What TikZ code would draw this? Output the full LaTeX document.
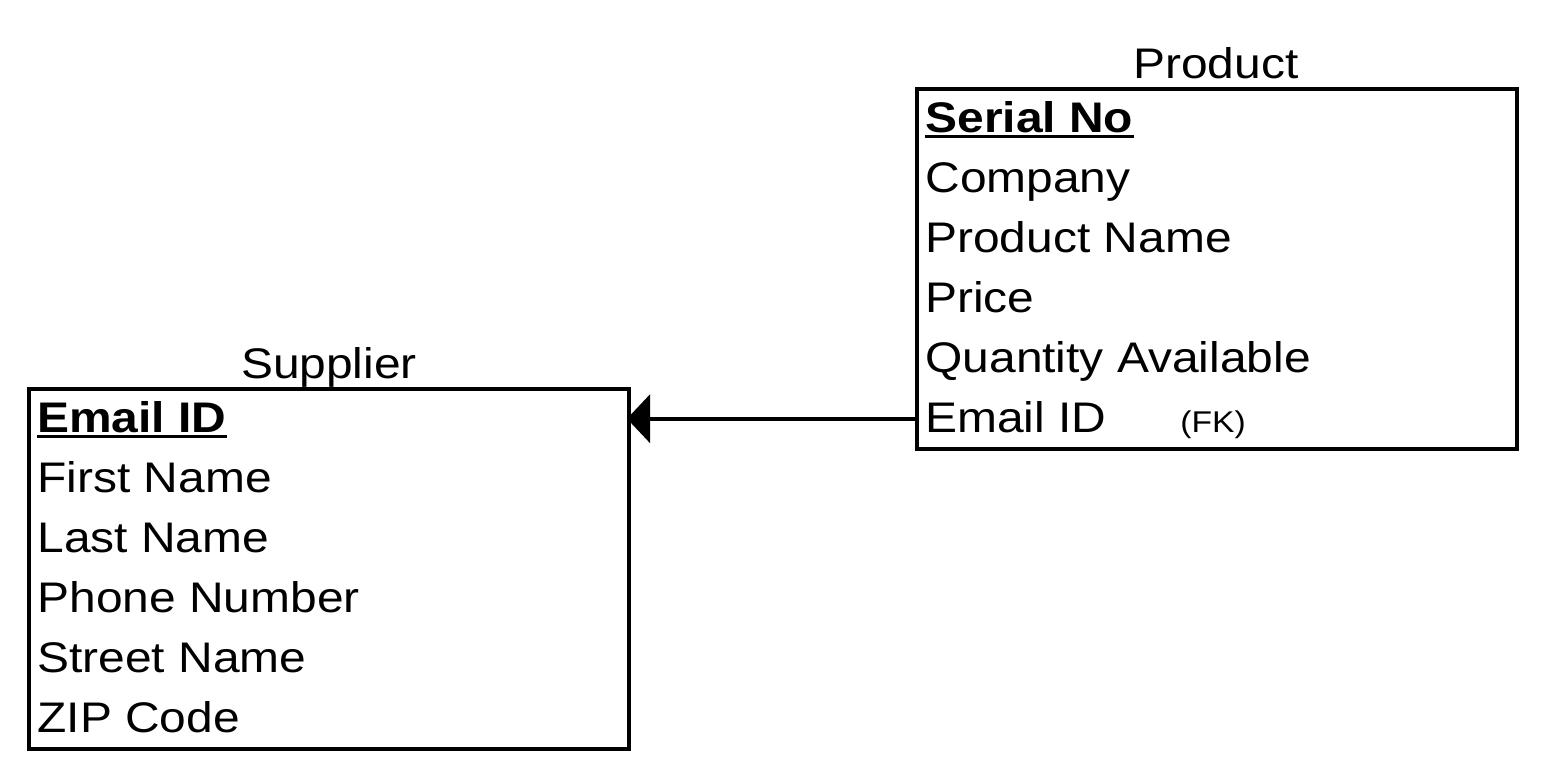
\documentclass[tikz,border=0pt]{standalone}
\usepackage{fontspec}
\setmainfont{Liberation Sans}[FakeStretch=1.12]
\usetikzlibrary{arrows.meta}
\begin{document}
\begin{tikzpicture}[x=0.5pt,y=-0.5pt,
  entity/.style={draw, line width=2pt, minimum width=300pt, minimum height=180pt, inner sep=0pt},
  rowtext/.style={anchor=base west, inner sep=0pt, font=\fontsize{21.4}{25}\selectfont},
  keytext/.style={rowtext, font=\fontsize{21.4}{25}\selectfont\bfseries},
  titletext/.style={anchor=base, inner sep=0pt, font=\fontsize{21.4}{25}\selectfont},
  fktext/.style={anchor=base west, inner sep=0pt, font=\fontsize{15}{18}\selectfont},
  ul/.style={line width=1.5pt},
  link/.style={line width=2pt, -{Triangle[length=11.5pt,width=24pt]}, shorten >=-2pt}
]
\useasboundingbox (0,0) rectangle (1544,776);
% Product
\node[entity] (prod) at (1217,268.7) {};
\node[titletext] (prodtitle) at (1216,78) {Product};
\node[keytext] (p1) at (925,132) {Serial No};
\node[rowtext] (p2) at (925,192) {Company};
\node[rowtext] (p3) at (925,252) {Product Name};
\node[rowtext] (p4) at (925,312) {Price};
\node[rowtext] (p5) at (925,372) {Quantity Available};
\node[rowtext] (p6) at (925,432) {Email ID};
\node[fktext] (fk) at (1180,432) {(FK)};
\draw[ul] ([yshift=-2pt]p1.base west) -- ([yshift=-2pt]p1.base east);
% Supplier
\node[entity] (sup) at (329,568.5) {};
\node[titletext] (suptitle) at (329,378) {Supplier};
\node[keytext] (s1) at (37,432) {Email ID};
\node[rowtext] (s2) at (37,492) {First Name};
\node[rowtext] (s3) at (37,552) {Last Name};
\node[rowtext] (s4) at (37,612) {Phone Number};
\node[rowtext] (s5) at (37,672) {Street Name};
\node[rowtext] (s6) at (37,732) {ZIP Code};
\draw[ul] ([yshift=-2pt]s1.base west) -- ([yshift=-2pt]s1.base east);
% Connector
\draw[link] (prod.west |- 0,418.7) -- (sup.east |- 0,418.7);
\end{tikzpicture}
\end{document}
